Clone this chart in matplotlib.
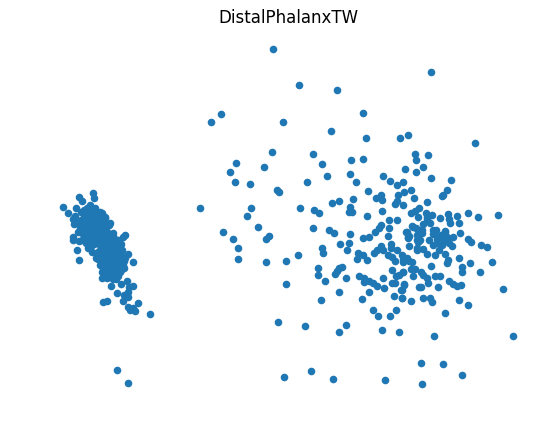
import matplotlib
matplotlib.use("Agg")
import matplotlib.pyplot as plt

left_x = [93,79,82,94,63,68,76,73,90,150,133,79,77,73,73,125,123,128,125,123,102,107,111,113,127,121,133,129,128,117,124,128,123,103,107,138,128,133,130,135,
 81,84,87,90,93,96,99,78,81,84,87,90,93,96,99,102,105,80,83,86,89,92,95,98,101,104,107,82,85,88,91,94,97,100,103,106,109,84,87,90,93,96,99,102,105,108,
 86,89,92,95,98,101,104,107,110,113,88,91,94,97,100,103,106,109,112,115,96,99,102,105,108,111,114,117,120,98,101,104,107,110,113,116,119,122,
 101,104,107,110,113,116,119,122,103,106,109,112,115,118,121,124,105,108,111,114,117,120,123,106,109,112,115,118,121,124,108,111,114,117,120,123,101,105,118,116,79,84,88,75,74,121,117,109,
 105,110,113,100,95,80,78,82,92,96,100,102,118,120,90,117,128]
left_y = [193,197,201,198,207,213,208,219,205,314,262,260,250,237,240,235,237,254,258,268,278,278,286,279,281,284,286,287,292,293,295,297,301,302,301,303,307,308,310,311,
 212,210,208,206,210,212,214,222,220,217,214,215,218,216,219,213,218,228,226,222,220,223,225,222,224,221,226,233,231,229,226,229,231,228,230,227,225,238,236,234,232,235,237,234,236,233,
 243,241,239,237,240,242,239,241,238,236,248,246,244,242,245,247,244,246,243,241,253,251,249,248,250,252,249,247,245,259,257,255,253,256,258,254,252,250,
 264,262,260,258,261,263,259,256,269,267,265,263,266,268,264,261,272,270,268,267,270,272,265,276,274,272,275,273,270,268,256,259,271,268,264,258,246,250,276,279,241,232,243,216,224,244,240,263,
 217,223,233,212,208,224,232,240,252,258,265,272,240,246,215,370,383]

right_x = [331,366,400,408,313,322,351,363,415,416,405,416,327,350,383,390,397,403,307,356,368,411,381,398,404,376,382,414,353,339,332,397,395,403,300,314,319,350,349,352,382,415,411,367,418,389,397,313,329,334,350,381,379,375,389,388,363,369,406,412,416,418,408,
 475,428,423,431,451,447,443,442,427,419,426,427,432,440,448,449,457,468,478,498,459,450,430,423,427,436,433,445,460,407,422,422,417,409,438,447,453,468,
 340,349,347,322,323,298,358,363,357,367,377,381,383,374,391,391,397,388,392,395,402,403,407,403,409,408,409,418,417,318,318,325,342,339,337,335,346,359,364,364,369,373,377,383,384,392,396,399,403,411,415,413,392,395,404,401,419,369,339,321,362,394,402,411,373,378,390,396,305,346,339,382,399,
 413,421,421,417,420,417,423,427,445,437,433,442,447,439,435,445,452,471,481,487,448,447,459,470,492,431,462,462,480,403,412,421,423,427,428,435,440,421,438,449,453,457,461,404,402,503,402,423,430,432,459,468,445,
 434,513,421,443,462,422,385,333,311,284,278,273,299,337,431,363,283,221,211,272,236,230,264,235,250,277,279,200,251,247,258,269,266,223,233,238,238,266,286,286,
 433,441,437,449,444,429]
right_y = [131,138,138,135,154,164,160,159,154,160,169,172,176,174,176,181,185,182,182,182,191,190,195,195,192,198,200,198,199,201,203,201,204,205,208,210,213,207,212,212,211,211,213,216,217,220,220,228,230,233,234,225,228,232,228,236,238,237,232,226,228,234,237,
 143,155,167,178,180,190,195,196,202,208,213,217,215,218,214,219,216,213,217,215,223,223,223,224,219,230,234,231,233,232,230,233,235,236,237,237,237,239,
 244,243,250,248,253,255,253,255,259,260,250,246,250,253,244,248,250,255,257,261,255,259,258,262,261,238,246,242,248,268,275,281,267,268,271,274,278,276,278,282,281,283,286,278,288,270,276,275,272,269,269,276,283,283,284,290,287,292,292,300,299,296,298,301,310,316,316,310,326,325,332,330,332,
 227,230,233,240,240,250,249,254,232,239,245,245,238,250,255,254,246,242,245,247,260,263,258,263,262,266,267,272,272,272,262,272,275,278,283,276,276,287,287,281,284,286,285,285,290,289,298,298,298,302,300,305,313,
 336,336,363,364,375,384,380,379,371,377,322,49,85,90,72,113,122,114,122,152,163,172,167,182,184,190,192,208,208,216,227,236,239,232,239,248,259,262,261,284,
 230,235,243,243,240,240]

x = left_x + right_x
y = left_y + right_y

W, H = 549, 435
fig = plt.figure(figsize=(W / 100, H / 100), dpi=100)
ax = fig.add_axes([42 / W, (H - 416) / H, 492 / W, 387 / H])
ax.scatter(x, y, s=30, color="#1f77b4", linewidths=0)
ax.set_xlim(42, 534)
ax.set_ylim(415, 28)
ax.set_title("DistalPhalanxTW", fontsize=12, pad=4)
ax.axis("off")
fig.savefig("out.png", dpi=100)
